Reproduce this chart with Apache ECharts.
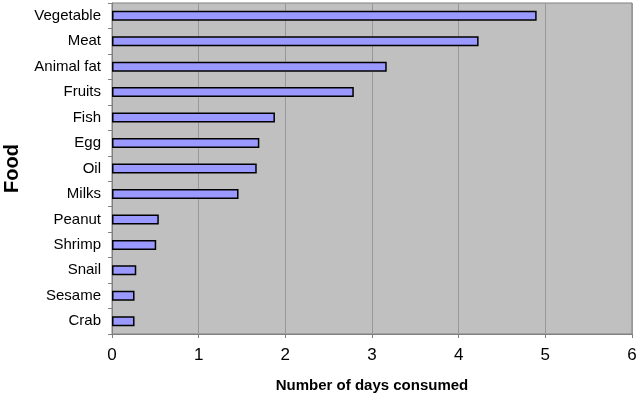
<!DOCTYPE html>
<html>
<head>
<meta charset="utf-8">
<script src="https://cdn.jsdelivr.net/npm/echarts@6/dist/echarts.min.js"></script>
<style>
  html, body { margin: 0; padding: 0; background: #fff; }
  #food { width: 640px; height: 395px; }
</style>
</head>
<body>
<div id="food"></div>
<script>
// data (top to bottom)
var foods = ['Vegetable', 'Meat', 'Animal fat', 'Fruits', 'Fish', 'Egg', 'Oil', 'Milks', 'Peanut', 'Shrimp', 'Snail', 'Sesame', 'Crab'];
var days = [4.90, 4.23, 3.17, 2.79, 1.88, 1.70, 1.67, 1.46, 0.54, 0.51, 0.28, 0.26, 0.26];
var dayTicks = [0, 1, 2, 3, 4, 5, 6];

var dom = document.getElementById("food");
var myChart = echarts.init(dom);

var option = {
    animation: false,
    textStyle: { fontFamily: 'Liberation Sans, Arial, sans-serif' },
    grid: {
        left: 112,
        right: 8,
        top: 3,
        bottom: 61,
        outerBoundsMode: 'none',
        show: true,
        backgroundColor: '#c0c0c0',
        borderColor: '#808080',
        borderWidth: 1
    },
    xAxis: {
        type: 'value',
        min: dayTicks[0],
        max: dayTicks[dayTicks.length - 1],
        interval: 1,
        name: 'Number of days consumed',
        nameLocation: 'middle',
        nameGap: 44,
        nameTextStyle: { fontSize: 15, fontWeight: 'bold', color: '#000' },
        axisLine: { show: true, lineStyle: { color: '#808080' } },
        axisTick: { show: true, length: 4, lineStyle: { color: '#808080' } },
        axisLabel: { fontSize: 17, color: '#000', margin: 13 },
        splitLine: { show: true, lineStyle: { color: '#989898', width: 1 } }
    },
    yAxis: {
        type: 'category',
        data: foods,
        inverse: true,
        name: 'Food',
        nameLocation: 'middle',
        nameGap: 90,
        nameTextStyle: { fontSize: 20, fontWeight: 'bold', color: '#000' },
        axisLine: { show: true, lineStyle: { color: '#808080' } },
        axisTick: { show: true, length: 4, lineStyle: { color: '#808080' } },
        axisLabel: { fontSize: 15, color: '#000', margin: 11 },
        splitLine: { show: false }
    },
    series: [
        {
            type: 'bar',
            data: days,
            barWidth: 10,
            itemStyle: {
                color: '#9999ff',
                borderColor: '#000',
                borderWidth: 1.5
            }
        }
    ]
};

myChart.setOption(option, true);

window.addEventListener("resize", function () {
    myChart.resize();
});
</script>
</body>
</html>
